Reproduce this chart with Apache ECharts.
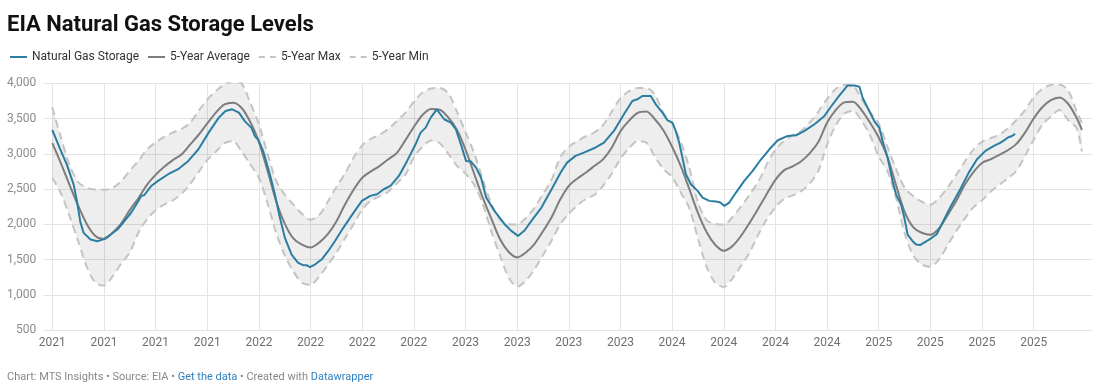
<!DOCTYPE html>
<html><head><meta charset="utf-8">
<script src="https://cdn.jsdelivr.net/npm/echarts@6/dist/echarts.min.js"></script>
<style>html,body{margin:0;padding:0;background:#fff}#c{width:1103px;height:392px}</style>
</head><body><div id="c"></div>
<script>
// x positions are months since Jan 2021
const tickMonths = [0,3,6,9,12,15,18,21,24,27,30,33,36,39,42,45,48,51,54,57];
const tickLabels = ['2021','2021','2021','2021','2022','2022','2022','2022','2023','2023','2023','2023','2024','2024','2024','2024','2025','2025','2025','2025'];

const bandMonths = [
  0,0.5,1,1.5,2,2.5,3,3.5,4,4.5,5,5.5,6,6.5,7,7.5,8,8.5,9,9.5,10,10.5,11,11.5,
  12,12.5,13,13.5,14,14.5,15,15.5,16,16.5,17,17.5,18,18.5,19,19.5,20,20.5,21,21.5,22,22.5,23,23.5,
  24,24.5,25,25.5,26,26.5,27,27.5,28,28.5,29,29.5,30,30.5,31,31.5,32,32.5,33,33.5,34,34.5,35,35.5,
  36,36.5,37,37.5,38,38.5,39,39.5,40,40.5,41,41.5,42,42.5,43,43.5,44,44.5,45,45.5,46,46.5,47,47.5,
  48,48.5,49,49.5,50,50.5,51,51.5,52,52.5,53,53.5,54,54.5,55,55.5,56,56.5,57,57.5,58,58.5,59,59.5,59.8
];

const avgVals = [
  3150,2865,2560,2265,2005,1835,1790,1880,2010,2200,2370,2560,2700,2815,2910,2990,3130,3270,3430,3585,3700,3725,3650,3450,
  3170,2760,2330,2010,1800,1710,1670,1740,1860,2040,2280,2490,2660,2750,2825,2920,3010,3190,3380,3550,3635,3625,3515,3340,
  3060,2720,2380,2080,1790,1610,1530,1600,1720,1900,2100,2350,2545,2650,2735,2830,2925,3090,3320,3470,3580,3600,3490,3330,
  3100,2830,2500,2160,1890,1710,1625,1690,1835,2020,2220,2430,2630,2765,2820,2895,3010,3170,3440,3620,3730,3740,3620,3440,
  3230,2960,2560,2180,1960,1880,1852,1940,2130,2330,2560,2740,2870,2922,2985,3050,3140,3300,3500,3660,3760,3800,3710,3508,3340
];

const maxVals = [
  3660,3230,2840,2600,2518,2492,2490,2516,2611,2760,2900,3060,3160,3240,3300,3350,3440,3610,3770,3890,3985,4033,3995,3720,
  3420,3000,2620,2420,2280,2150,2065,2130,2320,2530,2720,2946,3120,3210,3270,3350,3460,3580,3740,3870,3925,3935,3860,3600,
  3310,3010,2640,2290,2070,2000,1995,2090,2230,2430,2630,2950,3100,3180,3250,3305,3410,3600,3790,3890,3933,3935,3840,3575,
  3430,3170,2800,2310,2060,2005,1995,2100,2250,2420,2600,2850,3060,3180,3265,3324,3445,3600,3780,3920,3975,3965,3780,3590,
  3430,3100,2790,2520,2400,2320,2280,2370,2520,2700,2890,3060,3170,3220,3270,3360,3480,3620,3800,3920,3975,3980,3900,3600,3440
];

const minVals = [
  2660,2440,2120,1760,1400,1170,1130,1260,1440,1600,1880,2070,2200,2280,2340,2430,2570,2740,2910,3030,3150,3180,3030,2850,
  2660,2300,1880,1560,1330,1170,1140,1260,1420,1600,1800,2000,2210,2335,2395,2460,2580,2700,2946,3100,3190,3150,3000,2830,
  2720,2560,2290,1900,1560,1250,1115,1200,1360,1560,1770,2000,2150,2270,2360,2420,2550,2720,2930,3080,3180,3160,2960,2780,
  2670,2450,2230,1800,1400,1170,1110,1230,1410,1600,1850,2070,2240,2360,2410,2470,2580,2760,3130,3400,3570,3610,3470,3260,
  2960,2760,2380,1880,1560,1430,1396,1500,1700,1900,2080,2240,2340,2460,2560,2650,2760,2970,3200,3410,3530,3620,3480,3360,3030
];

const storageMonths = [
  0,0.45,0.84,1.24,1.43,1.63,1.82,2.22,2.61,3.0,3.39,3.78,4.18,4.57,5.0,5.16,5.35,5.75,6.14,6.73,7.31,7.9,8.49,9.08,9.67,10.06,10.45,10.84,11.19,11.57,11.77,11.96,
  12.25,12.64,12.93,13.22,13.51,13.9,14.28,14.57,14.77,14.96,15.25,15.64,16.02,16.41,16.91,17.5,17.98,18.47,18.86,19.25,19.64,20.13,20.61,21.1,21.39,21.69,21.98,22.33,22.76,23.15,23.44,23.73,
  24.03,24.32,24.61,24.9,25.2,25.68,26.27,26.66,27.05,27.44,27.83,28.41,29.0,29.55,29.9,30.39,30.87,31.46,32.04,32.62,33.2,33.69,33.98,34.27,34.76,35.05,35.44,35.73,
  36.02,36.21,36.41,36.6,36.8,37.09,37.48,37.77,38.16,38.54,38.8,39.03,39.32,39.71,40.19,40.68,41.17,41.65,42.14,42.72,43.2,43.69,44.27,44.85,45.2,45.72,46.2,46.59,46.88,47.07,47.46,47.75,
  48.04,48.23,48.52,48.81,49.01,49.3,49.49,49.68,49.97,50.17,50.4,50.97,51.37,51.66,52.15,52.74,53.23,53.71,54.2,54.69,55.08,55.34,55.53,55.72,55.92
];
const storageVals = [
  3340,3070,2850,2563,2330,2030,1878,1783,1758,1790,1854,1925,2043,2160,2330,2400,2415,2544,2615,2710,2781,2899,3064,3300,3513,3608,3631,3584,3460,3367,3249,3201,
  3036,2705,2421,2091,1807,1571,1453,1420,1420,1391,1429,1500,1618,1760,1953,2166,2332,2403,2426,2497,2544,2686,2899,3135,3300,3371,3513,3631,3490,3442,3348,3135,
  2899,2890,2804,2663,2379,2190,2001,1906,1835,1915,2048,2237,2497,2745,2875,2970,3017,3078,3159,3324,3560,3749,3773,3820,3820,3702,3584,3475,
  3442,3324,3159,2946,2710,2568,2474,2379,2332,2322,2308,2261,2308,2450,2615,2757,2922,3064,3192,3253,3263,3324,3419,3537,3660,3830,3970,3970,3950,3792,3603,3461,
  3367,3178,2941,2611,2421,2280,2091,1854,1760,1713,1705,1788,1859,2001,2237,2497,2733,2922,3041,3111,3159,3201,3234,3249,3282
];

const pair = (xs, ys) => xs.map((x, i) => [x, ys[i]]);

const FONT = 'Roboto';
const C_STORE = '#2b7ea1', C_AVG = '#7d7d7d', C_BAND = '#c4c4c4';
const SOLID = 'path://M0,0H17V2H0Z';
const DASHED = 'path://M0,0H6V2H0Z M11,0H17V2H11Z';

const chart = echarts.init(document.getElementById('c'), null, {renderer: 'canvas'});
chart.setOption({
  animation: false,
  backgroundColor: '#fff',
  textStyle: {fontFamily: FONT},
  title: [
    {text: 'EIA Natural Gas Storage Levels', left: 2, top: 9,
     textStyle: {fontFamily: FONT, fontWeight: 'bold', fontSize: 22, color: '#111'}},
    {text: '{g|Chart: MTS Insights • Source: EIA • }{b|Get the data}{g| • Created with }{b|Datawrapper}',
     left: 2, top: 367,
     textStyle: {fontWeight: 'normal', fontSize: 11, rich: {
       g: {fontSize: 11, color: '#888', fontFamily: FONT, fontWeight: 'normal'},
       b: {fontSize: 11, color: '#2f80c0', fontFamily: FONT, fontWeight: 'normal'}
     }}}
  ],
  legend: {
    data: [
      {name: 'Natural Gas Storage', icon: SOLID},
      {name: '5-Year Average', icon: SOLID},
      {name: '5-Year Max', icon: DASHED},
      {name: '5-Year Min', icon: DASHED}
    ],
    left: 5, top: 46, itemWidth: 17, itemHeight: 2, itemGap: 9,
    selectedMode: false,
    textStyle: {fontSize: 12, color: '#333', fontFamily: FONT}
  },
  grid: {left: 43.35, right: 10.8, top: 83.3, bottom: 62, containLabel: false, outerBoundsMode: 'none'},
  xAxis: {
    type: 'value', min: -0.52, max: 60.4,
    axisLine: {show: false},
    axisTick: {show: false, customValues: tickMonths},
    splitLine: {show: true, lineStyle: {color: '#e4e4e4', width: 1}},
    axisLabel: {customValues: tickMonths, formatter: v => tickLabels[Math.round(v / 3)],
                color: '#6f6f6f', fontSize: 12, margin: 7, fontFamily: FONT}
  },
  yAxis: {
    type: 'value', min: 500, max: 4000, interval: 500,
    axisLine: {show: false}, axisTick: {show: false},
    splitLine: {lineStyle: {color: '#e4e4e4', width: 1}},
    axisLabel: {color: '#8c8c8c', fontSize: 12, margin: 7, fontFamily: FONT,
                formatter: v => v.toLocaleString('en-US')}
  },
  series: [
    {type: 'custom', name: 'band', silent: true, z: 1, clip: true,
     data: [[bandMonths[0], minVals[0]]],
     renderItem: (params, api) => {
       const upper = bandMonths.map((x, i) => api.coord([x, maxVals[i]]));
       const lower = bandMonths.map((x, i) => api.coord([x, minVals[i]])).reverse();
       return {type: 'polygon', shape: {points: upper.concat(lower)},
               style: {fill: 'rgba(0,0,0,0.065)', stroke: null}};
     }},
    {type: 'line', name: '5-Year Max', data: pair(bandMonths, maxVals), symbol: 'none', smooth: 0.3,
     lineStyle: {color: C_BAND, width: 2, type: [8, 5]}, itemStyle: {color: C_BAND}, silent: true, z: 2},
    {type: 'line', name: '5-Year Min', data: pair(bandMonths, minVals), symbol: 'none', smooth: 0.3,
     lineStyle: {color: C_BAND, width: 2, type: [8, 5]}, itemStyle: {color: C_BAND}, silent: true, z: 2},
    {type: 'line', name: '5-Year Average', data: pair(bandMonths, avgVals), symbol: 'none', smooth: 0.3,
     lineStyle: {color: C_AVG, width: 2}, itemStyle: {color: C_AVG}, silent: true, z: 3},
    {type: 'line', name: 'Natural Gas Storage', data: pair(storageMonths, storageVals), symbol: 'none',
     lineStyle: {color: C_STORE, width: 2}, itemStyle: {color: C_STORE}, silent: true, z: 4}
  ]
});
</script></body></html>
